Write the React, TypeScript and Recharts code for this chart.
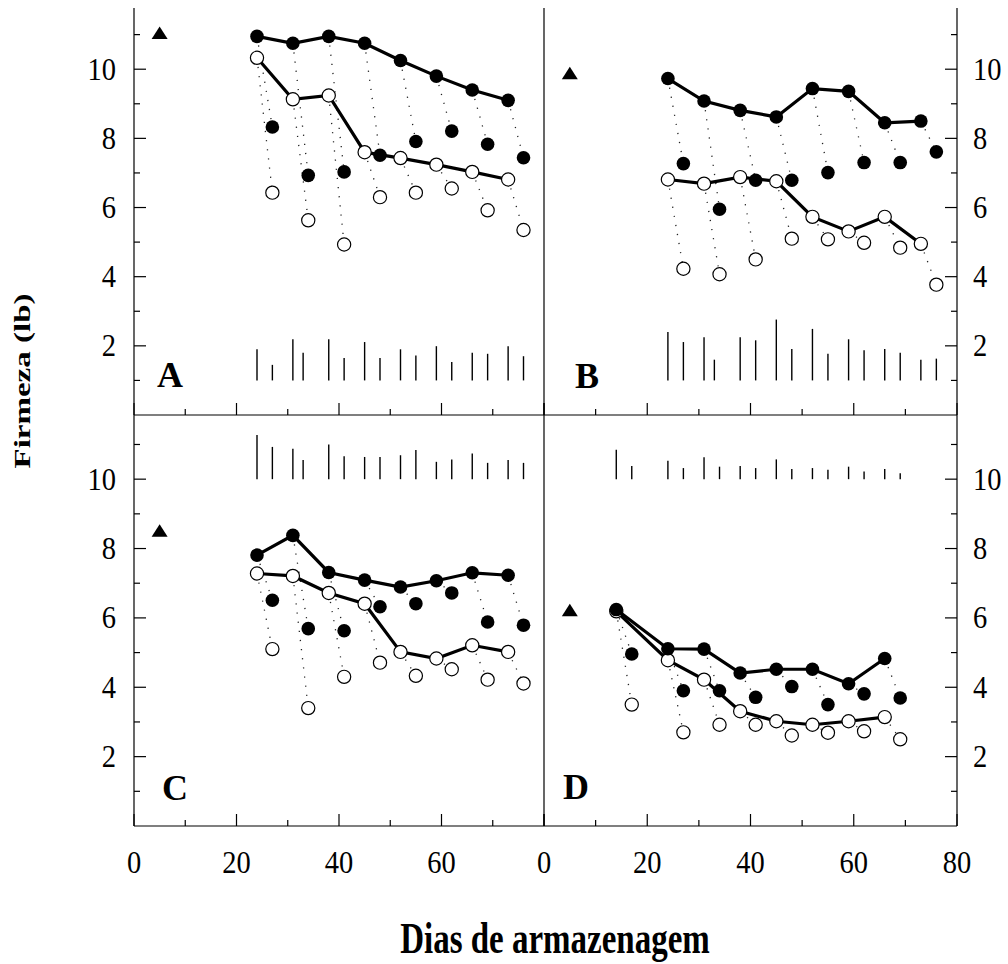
import React from 'react';
import { ComposedChart, Scatter, XAxis, YAxis, ReferenceLine } from 'recharts';

// ---------------- data ----------------
const X_TICKS = [0, 10, 20, 30, 40, 50, 60, 70, 80];
const Y_TICKS = [1, 2, 3, 4, 5, 6, 7, 8, 9, 10, 11];
const Y_LABELS = [2, 4, 6, 8, 10];
const X_LABELS_NONE: number[] = [];
const X_LABELS_C = [0, 20, 40, 60];
const X_LABELS_D = [0, 20, 40, 60, 80];

const TRIANGLE_DAY = 5;
const DAYS_MAIN = [24, 31, 38, 45, 52, 59, 66, 73];
const DAYS_OFFSET = [27, 34, 41, 48, 55, 62, 69, 76];
const DAYS_MAIN_D = [14, 24, 31, 38, 45, 52, 59, 66];
const DAYS_OFFSET_D = [17, 27, 34, 41, 48, 55, 62, 69];
const BAR_DAYS_ABC = [24, 27, 31, 33, 38, 41, 45, 48, 52, 55, 59, 62, 66, 69, 73, 76];
const BAR_DAYS_D = [14, 17, 24, 27, 31, 34, 38, 41, 45, 48, 52, 55, 59, 62, 66, 69];

// Panel A
const A_TRIANGLE = 11.05;
const A_FILLED = [10.95, 10.75, 10.95, 10.75, 10.25, 9.8, 9.4, 9.1];
const A_OPEN = [10.33, 9.13, 9.24, 7.6, 7.43, 7.24, 7.03, 6.81];
const A_FILLED_OFF = [8.33, 6.93, 7.03, 7.51, 7.91, 8.21, 7.83, 7.44];
const A_OPEN_OFF = [6.43, 5.63, 4.93, 6.3, 6.43, 6.55, 5.92, 5.35];
const A_BAR_BASE = 1;
const A_BAR_TOP = [1.9, 1.45, 2.19, 1.8, 2.19, 1.65, 2.11, 1.65, 1.9, 1.72, 1.99, 1.53, 1.8, 1.77, 1.99, 1.7];

// Panel B
const B_TRIANGLE = 9.88;
const B_FILLED = [9.73, 9.08, 8.81, 8.62, 9.44, 9.36, 8.45, 8.5];
const B_OPEN = [6.81, 6.69, 6.88, 6.76, 5.73, 5.31, 5.73, 4.95];
const B_FILLED_OFF = [7.27, 5.95, 6.79, 6.79, 7.01, 7.3, 7.3, 7.61];
const B_OPEN_OFF = [4.23, 4.07, 4.5, 5.1, 5.08, 4.98, 4.84, 3.77];
const B_BAR_BASE = 1;
const B_BAR_TOP = [2.4, 2.11, 2.25, 1.6, 2.25, 2.16, 2.76, 1.91, 2.49, 1.77, 2.19, 1.87, 1.91, 1.8, 1.6, 1.63];

// Panel C
const C_TRIANGLE = 8.51;
const C_FILLED = [7.81, 8.38, 7.31, 7.09, 6.89, 7.07, 7.3, 7.23];
const C_OPEN = [7.28, 7.21, 6.72, 6.41, 5.02, 4.83, 5.21, 5.02];
const C_FILLED_OFF = [6.51, 5.69, 5.63, 6.32, 6.41, 6.72, 5.88, 5.79];
const C_OPEN_OFF = [5.1, 3.4, 4.3, 4.71, 4.33, 4.52, 4.22, 4.11];
const C_BAR_BASE = 10;
const C_BAR_TOP = [11.27, 10.93, 10.88, 10.55, 11.0, 10.66, 10.64, 10.64, 10.69, 10.84, 10.5, 10.57, 10.74, 10.47, 10.55, 10.47];

// Panel D
const D_TRIANGLE = 6.22;
const D_FILLED = [6.24, 5.11, 5.1, 4.41, 4.52, 4.52, 4.1, 4.83];
const D_OPEN = [6.19, 4.78, 4.22, 3.31, 3.02, 2.92, 3.02, 3.14];
const D_FILLED_OFF = [4.96, 3.9, 3.9, 3.71, 4.02, 3.5, 3.81, 3.69];
const D_OPEN_OFF = [3.5, 2.7, 2.92, 2.92, 2.61, 2.69, 2.73, 2.5];
const D_BAR_BASE = 10;
const D_BAR_TOP = [10.85, 10.38, 10.53, 10.32, 10.63, 10.36, 10.38, 10.32, 10.57, 10.29, 10.32, 10.27, 10.36, 10.22, 10.29, 10.17];

// ---------------- layout / style ----------------
const FONT = "'Liberation Serif', 'Times New Roman', Times, serif";
const AXIS_W = 1.2;

type PanelCfg = {
  letter: string;
  left: number; top: number; width: number; height: number; yMax: number;
  side: 'left' | 'right';
  xLabels: number[];
  days: number[]; off: number[];
  tri: number; filled: number[]; open: number[]; filledOff: number[]; openOff: number[];
  barDays: number[]; barBase: number; barTop: number[];
};

const PANELS: PanelCfg[] = [
  { letter: 'A', left: 134, top: 8, width: 410, height: 407, yMax: 11.77, side: 'left', xLabels: X_LABELS_NONE,
    days: DAYS_MAIN, off: DAYS_OFFSET, tri: A_TRIANGLE, filled: A_FILLED, open: A_OPEN, filledOff: A_FILLED_OFF, openOff: A_OPEN_OFF,
    barDays: BAR_DAYS_ABC, barBase: A_BAR_BASE, barTop: A_BAR_TOP },
  { letter: 'B', left: 544, top: 8, width: 413, height: 407, yMax: 11.77, side: 'right', xLabels: X_LABELS_NONE,
    days: DAYS_MAIN, off: DAYS_OFFSET, tri: B_TRIANGLE, filled: B_FILLED, open: B_OPEN, filledOff: B_FILLED_OFF, openOff: B_OPEN_OFF,
    barDays: BAR_DAYS_ABC, barBase: B_BAR_BASE, barTop: B_BAR_TOP },
  { letter: 'C', left: 134, top: 415, width: 410, height: 411, yMax: 11.85, side: 'left', xLabels: X_LABELS_C,
    days: DAYS_MAIN, off: DAYS_OFFSET, tri: C_TRIANGLE, filled: C_FILLED, open: C_OPEN, filledOff: C_FILLED_OFF, openOff: C_OPEN_OFF,
    barDays: BAR_DAYS_ABC, barBase: C_BAR_BASE, barTop: C_BAR_TOP },
  { letter: 'D', left: 544, top: 415, width: 413, height: 411, yMax: 11.85, side: 'right', xLabels: X_LABELS_D,
    days: DAYS_MAIN_D, off: DAYS_OFFSET_D, tri: D_TRIANGLE, filled: D_FILLED, open: D_OPEN, filledOff: D_FILLED_OFF, openOff: D_OPEN_OFF,
    barDays: BAR_DAYS_D, barBase: D_BAR_BASE, barTop: D_BAR_TOP },
];

const LETTER_POS: Record<string, [number, number]> = {
  A: [157, 387], B: [575, 388], C: [162, 800], D: [563, 799],
};

const pts = (xs: number[], ys: number[]) => xs.map((x, i) => ({ x, y: ys[i] }));

// ---------------- shapes ----------------
const FilledDot = (p: any) => <circle cx={p.cx} cy={p.cy} r={6.8} fill="#000" />;
const OpenDot = (p: any) => <circle cx={p.cx} cy={p.cy} r={6.6} fill="#fff" stroke="#000" strokeWidth={1.2} />;
const TriShape = (p: any) => (
  <polygon points={`${p.cx},${p.cy - 6.5} ${p.cx + 8},${p.cy + 6} ${p.cx - 8},${p.cy + 6}`} fill="#000" />
);
const Empty = () => <g />;

// ---------------- ticks ----------------
const tickLen = (v: number, step: number) => (v % step === 0 ? 12 : 6);

function LeftTick(props: any) {
  const { x, y, payload, show } = props;
  const v = payload.value;
  const len = tickLen(v, 2);
  return (
    <g>
      <line x1={x} y1={y} x2={x + len} y2={y} stroke="#000" strokeWidth={AXIS_W} />
      {show && Y_LABELS.includes(v) && (
        <text transform={`translate(${x - 18},${y}) scale(0.92,1)`} textAnchor="end" dy="0.34em"
          fontFamily={FONT} fontSize={31} fill="#000">{v}</text>
      )}
    </g>
  );
}

function RightTick(props: any) {
  const { x, y, payload, show } = props;
  const v = payload.value;
  const len = tickLen(v, 2);
  return (
    <g>
      <line x1={x} y1={y} x2={x - len} y2={y} stroke="#000" strokeWidth={AXIS_W} />
      {show && Y_LABELS.includes(v) && (
        <text transform={`translate(${x + 16},${y}) scale(0.92,1)`} textAnchor="start" dy="0.34em"
          fontFamily={FONT} fontSize={31} fill="#000">{v}</text>
      )}
    </g>
  );
}

function BottomTick(props: any) {
  const { x, y, payload, labels } = props;
  const v = payload.value;
  const len = tickLen(v, 20);
  return (
    <g>
      <line x1={x} y1={y} x2={x} y2={y - len} stroke="#000" strokeWidth={AXIS_W} />
      {labels.includes(v) && (
        <text transform={`translate(${x},${y + 36}) scale(0.92,1)`} textAnchor="middle" dy="0.34em"
          fontFamily={FONT} fontSize={31} fill="#000">{v}</text>
      )}
    </g>
  );
}

// ---------------- panel ----------------
const PAD_L = 80, PAD_R = 80, PAD_T = 10, PAD_B = 60;
const DOTTED = { stroke: '#222', strokeWidth: 1.3, strokeDasharray: '1.2 8' };

function Panel({ cfg }: { cfg: PanelCfg }) {
  const isLeft = cfg.side === 'left';
  return (
    <div style={{ position: 'absolute', left: cfg.left - PAD_L, top: cfg.top - PAD_T }}>
      <ComposedChart
        width={cfg.width + PAD_L + PAD_R}
        height={cfg.height + PAD_T + PAD_B}
        margin={{ top: PAD_T, right: 0, bottom: 0, left: 0 }}
      >
        <XAxis dataKey="x" type="number" domain={[0, 80]} ticks={X_TICKS} interval={0}
          height={PAD_B} tickSize={0} tickMargin={0} tickLine={false}
          axisLine={{ stroke: '#000', strokeWidth: AXIS_W }} allowDataOverflow
          tick={(p: any) => <BottomTick {...p} labels={cfg.xLabels} />} />
        <YAxis yAxisId="l" orientation="left" dataKey="y" type="number" domain={[0, cfg.yMax]}
          ticks={Y_TICKS} interval={0} width={PAD_L} tickSize={0} tickMargin={0} tickLine={false}
          axisLine={{ stroke: '#000', strokeWidth: AXIS_W }} allowDataOverflow
          tick={isLeft ? (p: any) => <LeftTick {...p} show /> : false} />
        <YAxis yAxisId="r" orientation="right" dataKey="y" type="number" domain={[0, cfg.yMax]}
          ticks={Y_TICKS} interval={0} width={PAD_R} tickSize={0} tickMargin={0} tickLine={false}
          axisLine={isLeft ? false : { stroke: '#000', strokeWidth: AXIS_W }} allowDataOverflow
          tick={isLeft ? false : (p: any) => <RightTick {...p} show />} />

        {cfg.barDays.map((d, i) => (
          <ReferenceLine key={'bar' + i} yAxisId="l" ifOverflow="visible"
            segment={[{ x: d, y: cfg.barBase }, { x: d, y: cfg.barTop[i] }]}
            stroke="#000" strokeWidth={1.4} />
        ))}

        {cfg.days.map((d, i) => (
          <Scatter key={'df' + i} yAxisId="l" isAnimationActive={false} fill="#000"
            data={[{ x: d, y: cfg.filled[i] }, { x: cfg.off[i], y: cfg.filledOff[i] }]}
            line={DOTTED} lineType="joint" shape={Empty} />
        ))}
        {cfg.days.map((d, i) => (
          <Scatter key={'do' + i} yAxisId="l" isAnimationActive={false} fill="#000"
            data={[{ x: d, y: cfg.open[i] }, { x: cfg.off[i], y: cfg.openOff[i] }]}
            line={DOTTED} lineType="joint" shape={Empty} />
        ))}

        <Scatter yAxisId="l" isAnimationActive={false} fill="#000"
          data={pts(cfg.off, cfg.filledOff)} shape={FilledDot} />
        <Scatter yAxisId="l" isAnimationActive={false} fill="#000"
          data={pts(cfg.off, cfg.openOff)} shape={OpenDot} />
        <Scatter yAxisId="l" isAnimationActive={false} fill="#000"
          data={pts(cfg.days, cfg.open)} line={{ stroke: '#000', strokeWidth: 3.2 }} lineType="joint" shape={OpenDot} />
        <Scatter yAxisId="l" isAnimationActive={false} fill="#000"
          data={pts(cfg.days, cfg.filled)} line={{ stroke: '#000', strokeWidth: 3.2 }} lineType="joint" shape={FilledDot} />
        <Scatter yAxisId="l" isAnimationActive={false} fill="#000"
          data={[{ x: TRIANGLE_DAY, y: cfg.tri }]} shape={TriShape} />
      </ComposedChart>
    </div>
  );
}

export default function App() {
  return (
    <div style={{ position: 'absolute', left: 0, top: 0, width: 1008, height: 964, background: '#fff' }}>
      {PANELS.map((cfg) => <Panel key={cfg.letter} cfg={cfg} />)}
      <svg width={1008} height={964} style={{ position: 'absolute', left: 0, top: 0, pointerEvents: 'none' }}>
        {PANELS.map((cfg) => (
          <text key={cfg.letter} x={LETTER_POS[cfg.letter][0]} y={LETTER_POS[cfg.letter][1]}
            fontFamily={FONT} fontWeight="bold" fontSize={36} fill="#000">{cfg.letter}</text>
        ))}
        <text transform="translate(22,381) rotate(-90) scale(1,0.72)" textAnchor="middle" dy="0.34em"
          fontFamily={FONT} fontWeight="bold" fontSize={33} fill="#000">Firmeza (lb)</text>
        <text transform="translate(555,953) scale(0.75,1)" textAnchor="middle"
          fontFamily={FONT} fontWeight="bold" fontSize={44} fill="#000">Dias de armazenagem</text>
      </svg>
    </div>
  );
}
